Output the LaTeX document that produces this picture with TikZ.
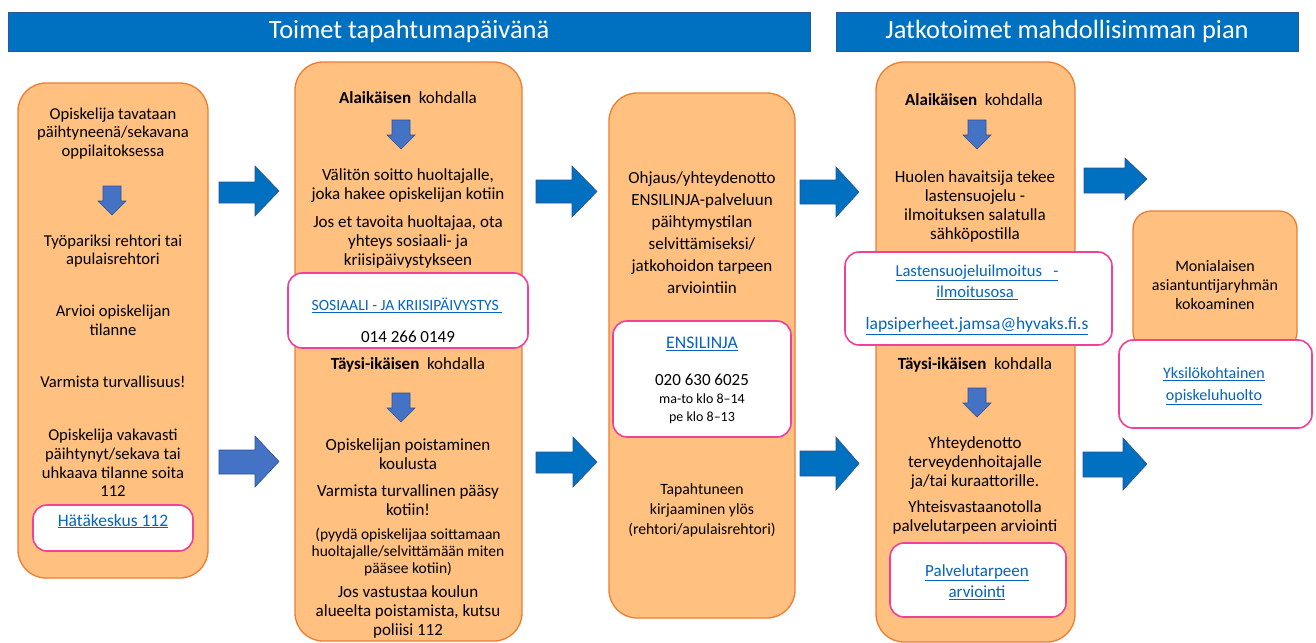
\documentclass[tikz,border=0pt]{standalone}
\usepackage{fontspec}
\setmainfont{Carlito}
\definecolor{boxfill}{HTML}{FFC080}
\definecolor{boxdraw}{HTML}{ED7D31}
\definecolor{linkpink}{HTML}{F0409A}
\definecolor{barblue}{HTML}{0070C0}
\definecolor{barline}{HTML}{2F5597}
\definecolor{arrblue}{HTML}{0070C0}
\definecolor{arrblueB}{HTML}{4472C4}
\definecolor{arrline}{HTML}{2F528F}
\definecolor{linkblue}{HTML}{0563C1}
\newcommand\lnk[1]{\underline{#1}}
\newcommand\downarr[2]{%
  \fill[arrblueB,draw=arrline,line width=0.6pt]
    (#1-9,#2) -- (#1+9,#2) -- (#1+9,#2+15) -- (#1+14,#2+15) -- (#1,#2+29)
    -- (#1-14,#2+15) -- (#1-9,#2+15) -- cycle;}
% x0, xhead, xtip, stem top, stem bottom, head top, head bottom, colour
\newcommand\rightarr[8]{%
  \fill[#8,draw=arrline,line width=0.6pt]
    (#1,#4) -- (#2,#4) -- (#2,#6) -- (#3,{(#6+#7)/2}) -- (#2,#7) -- (#2,#5)
    -- (#1,#5) -- cycle;}
\begin{document}
\begin{tikzpicture}[x=1pt,y=-1pt,
  orangebox/.style={fill=boxfill,draw=boxdraw,line width=1.3pt,rounded corners=28pt},
  smallorange/.style={fill=boxfill,draw=boxdraw,line width=1.3pt,rounded corners=18pt},
  whitebox/.style={fill=white,draw=linkpink,line width=1.6pt,rounded corners=14pt},
  headbar/.style={fill=barblue,draw=barline,line width=0.8pt},
  headtxt/.style={text=white,font=\fontsize{26.4}{30}\selectfont,inner sep=0pt},
  txt/.style={font=\fontsize{17}{19}\selectfont,align=center,text=black,inner sep=0pt},
  bigtxt/.style={font=\fontsize{17}{22}\selectfont,align=center,text=black,inner sep=0pt},
  smalltxt/.style={font=\fontsize{15.5}{17}\selectfont,align=center,text=black,inner sep=0pt},
  tinytxt/.style={font=\fontsize{14}{15}\selectfont,align=center,text=black,inner sep=0pt},
  link/.style={txt,text=linkblue}]
\useasboundingbox (0,0) rectangle (1316,642);
\fill[white] (0,0) rectangle (1316,642);

% header bars
\draw[headbar] (8,12) rectangle (810,51);
\node[headtxt] (h1) at (409,31) {Toimet tapahtumapäivänä};
\draw[headbar] (836,12) rectangle (1298,51);
\node[headtxt] (h2) at (1067,31) {Jatkotoimet mahdollisimman pian};

% box 1
\draw[orangebox] (18,83) rectangle (208,578);
\node[txt,font=\fontsize{16.6}{18.7}\selectfont] (t11) at (113,133.5) {Opiskelija tavataan\\päihtyneenä/sekavana\\oppilaitoksessa};
\downarr{112}{186}
\node[txt,font=\fontsize{16.6}{18.7}\selectfont] (t12) at (113,251) {Työpariksi rehtori tai\\apulaisrehtori};
\node[txt,font=\fontsize{16.6}{18.7}\selectfont] (t13) at (113,320) {Arvioi opiskelijan\\tilanne};
\node[txt,font=\fontsize{16.6}{18.7}\selectfont] (t14) at (113,382) {Varmista turvallisuus!};
\node[txt,font=\fontsize{16.6}{18.7}\selectfont] (t15) at (113,463) {Opiskelija vakavasti\\päihtynyt/sekava tai\\uhkaava tilanne soita\\112};
\draw[whitebox] (33,505) rectangle (193,551);
\node[link,font=\fontsize{17.5}{19}\selectfont] (l11) at (113,521) {\lnk{Hätäkeskus 112}};

% box 2
\draw[orangebox] (295,62) rectangle (522,641);
\node[txt] (t21) at (408,98) {\textbf{Alaikäisen}\ \ kohdalla};
\downarr{401}{120}
\node[txt] (t22) at (408,186) {Välitön soitto huoltajalle,\\joka hakee opiskelijan kotiin};
\node[txt] (t23) at (408,242) {Jos et tavoita huoltajaa, ota\\yhteys sosiaali- ja\\kriisipäivystykseen};
\draw[whitebox] (288,273) rectangle (528,348);
\node[link,font=\fontsize{15.6}{19}\selectfont] (l21) at (407,305) {\lnk{SOSIAALI - JA KRIISIPÄIVYSTYS\ }};
\node[txt] (t24) at (408,337) {014 266 0149};
\node[txt] (t25) at (408,365) {\textbf{Täysi-ikäisen}\ \ kohdalla};
\downarr{401}{393}
\node[txt] (t26) at (408,454.5) {Opiskelijan poistaminen\\koulusta};
\node[txt] (t27) at (408,500) {Varmista turvallinen pääsy\\kotiin!};
\node[smalltxt] (t28) at (408,552) {(pyydä opiskelijaa soittamaan\\huoltajalle/selvittämään miten\\pääsee kotiin)};
\node[txt] (t29) at (408,612) {Jos vastustaa koulun\\alueelta poistamista, kutsu\\poliisi 112};

% box 3
\draw[orangebox] (609,93) rectangle (795,618);
\node[bigtxt] (t31) at (702,233) {Ohjaus/yhteydenotto\\ENSILINJA-palveluun\\päihtymystilan\\selvittämiseksi/\\jatkohoidon tarpeen\\arviointiin};
\draw[whitebox] (613,321) rectangle (791,437);
\node[link,font=\fontsize{17.7}{19}\selectfont] (l31) at (702,344) {\lnk{ENSILINJA}};
\node[bigtxt] (t32) at (702,380) {020 630 6025};
\node[tinytxt] (t33) at (702,399) {ma-to klo 8–14};
\node[tinytxt] (t34) at (702,418) {pe klo 8–13};
\node[txt,font=\fontsize{15.7}{20}\selectfont] (t35) at (702,510) {Tapahtuneen\\kirjaaminen ylös\\(rehtori/apulaisrehtori)};

% box 4
\draw[orangebox] (876,62) rectangle (1075,642);
\node[txt] (t41) at (974,100) {\textbf{Alaikäisen}\ \ kohdalla};
\downarr{977}{120}
\node[txt] (t42) at (975,206.5) {Huolen havaitsija tekee\\lastensuojelu -\\ilmoituksen salatulla\\sähköpostilla};
\draw[whitebox] (845,252) rectangle (1112,345);
\node[link,font=\fontsize{16.6}{21}\selectfont] (l41) at (977,282) {\lnk{Lastensuojeluilmoitus\ \ \ -}\\\lnk{ilmoitusosa\ }};
\node[link,font=\fontsize{17.5}{19}\selectfont] (l42) at (977,326) {\lnk{lapsiperheet.jamsa@hyvaks.fi.s}};
\node[txt] (t43) at (975,365) {\textbf{Täysi-ikäisen}\ \ kohdalla};
\downarr{977}{388}
\node[txt] (t44) at (975,463) {Yhteydenotto\\terveydenhoitajalle\\ja/tai kuraattorille.};
\node[txt] (t45) at (975,517) {Yhteisvastaanotolla\\palvelutarpeen arviointi};
\draw[whitebox] (890,543) rectangle (1066,617);
\node[link,font=\fontsize{17}{21}\selectfont] (l43) at (977,582) {\lnk{Palvelutarpeen}\\\lnk{arviointi}};

% box 5
\draw[smallorange] (1133,211) rectangle (1297,350);
\node[txt,font=\fontsize{16}{18.7}\selectfont] (t51) at (1215,285) {Monialaisen\\asiantuntijaryhmän\\kokoaminen};
\draw[whitebox] (1119,340) rectangle (1312,428);
\node[link,font=\fontsize{16}{22}\selectfont] (l51) at (1214,386) {\lnk{Yksilökohtainen}\\\lnk{opiskeluhuolto}};

% block arrows
\rightarr{219}{255}{279}{182}{203}{166}{216}{arrblue}
\rightarr{219}{255}{279}{450}{474}{436}{487}{arrblueB}
\rightarr{536}{572}{597}{180}{203}{166}{217}{arrblue}
\rightarr{536}{573}{597}{452}{473}{437}{487}{arrblue}
\rightarr{800}{836}{859}{180}{204}{167}{217}{arrblue}
\rightarr{800}{836}{859}{451}{476}{437}{490}{arrblue}
\rightarr{1084}{1125}{1147}{168}{193}{158}{200}{arrblue}
\rightarr{1083}{1123}{1147}{452}{477}{438}{490}{arrblue}
\end{tikzpicture}
\end{document}
